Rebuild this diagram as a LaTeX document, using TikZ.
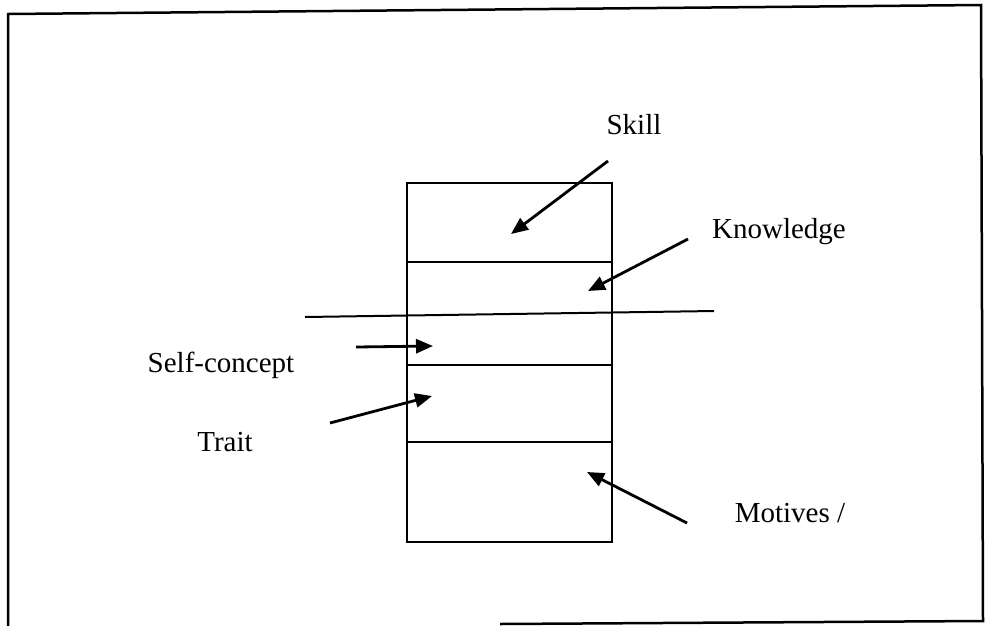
\documentclass[tikz,border=0pt]{standalone}
\usepackage{fontspec}
\setmainfont{Liberation Serif}
\usetikzlibrary{arrows.meta}
\begin{document}
\begin{tikzpicture}[x=1pt,y=-1pt,
  lbl/.style={inner sep=0pt,font=\fontsize{29}{34}\selectfont},
  thin line/.style={line width=2pt},
  pointer/.style={line width=2.8pt,-{Triangle[length=17pt,width=14pt]}}]
\useasboundingbox (0,0) rectangle (988,625);
% outer frame (slightly tilted, as scanned)
\draw[line width=2.5pt] (8,640) -- (8,14) -- (981,5) -- (983,621) -- (500,624);
% stacked box
\coordinate (tl) at (407,183);
\coordinate (tr) at (612,183);
\coordinate (bl) at (407,542);
\coordinate (br) at (612,542);
\draw[thin line] (tl) -- (tr) -- (br) -- (bl) -- cycle;
\draw[thin line] (407,262) -- (612,262);
\draw[thin line] (407,365) -- (612,365);
\draw[thin line] (407,442) -- (612,442);
% waterline
\coordinate (wl) at (305,317);
\coordinate (wr) at (714,311);
\draw[thin line] (wl) -- (wr);
% labels
\node[lbl] (skill) at (634,125) {Skill};
\node[lbl] (know) at (779,232) {Knowledge};
\node[lbl] (self) at (221,365) {Self-concept};
\node[lbl] (trait) at (225,442) {Trait};
\node[lbl] (mot) at (790,513) {Motives /};
% arrow ends
\coordinate (s0) at (608,161); \coordinate (s1) at (511,234);
\coordinate (k0) at (688,239); \coordinate (k1) at (588,291);
\coordinate (c0) at (356,347); \coordinate (c1) at (433,346);
\coordinate (t0) at (330,423); \coordinate (t1) at (432,396);
\coordinate (m0) at (687,523); \coordinate (m1) at (587,472);
\draw[pointer] (s0) -- (s1);
\draw[pointer] (k0) -- (k1);
\draw[pointer] (c0) -- (c1);
\draw[pointer] (t0) -- (t1);
\draw[pointer] (m0) -- (m1);
\end{tikzpicture}
\end{document}
